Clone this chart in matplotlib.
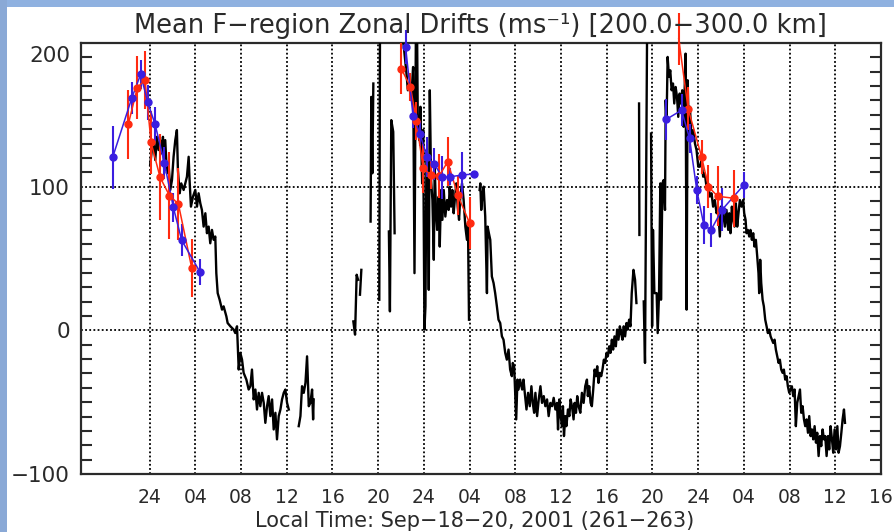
import numpy as np
import matplotlib
matplotlib.use("Agg")
import matplotlib.pyplot as plt
from matplotlib.patches import Rectangle
from matplotlib.ticker import FixedLocator, MultipleLocator

# ---------------- data (hours since 00 LT Sep 18, drift m/s) ----------------
x_ticks = [24, 28, 32, 36, 40, 44, 48, 52, 56, 60, 64, 68, 72, 76, 80, 84, 88]
x_tick_labels = ["24", "04", "08", "12", "16", "20", "24", "04", "08", "12",
                 "16", "20", "24", "04", "08", "12", "16"]
y_tick_values = [-100, 0, 100, 200]

# black: measured drifts, separate segments (gaps between them)
black_seg1 = [(24.05, 115), (24.20, 125.5), (24.35, 130.1), (24.50, 118.5), (24.64, 134.7),
              (24.79, 125.5), (24.93, 132.4), (25.08, 123.1), (25.17, 134.7), (25.28, 111.6),
              (25.37, 132.4), (25.52, 109.3), (25.66, 116.2), (25.81, 97.7), (25.96, 104.6),
              (26.10, 120.8), (26.25, 132.4), (26.39, 139.4), (26.48, 111.6), (26.63, 95.4),
              (26.77, 102.3), (26.98, 97.7), (27.12, 102.3), (27.27, 106.9), (27.42, 120.8),
              (27.50, 104.6), (27.62, 86.1), (27.80, 93.1), (28.00, 97.7), (28.15, 86.1),
              (28.29, 95.4), (28.44, 88.4), (28.58, 83.8), (28.73, 72.2), (28.88, 81.5),
              (29.02, 67.6), (29.17, 72.2), (29.31, 60.6), (29.46, 69.9), (29.61, 63.0),
              (29.75, 65.3), (29.84, 39.8), (29.96, 25.9), (30.13, 21.3), (30.34, 14.4),
              (30.48, 16.7), (30.72, 9.7), (30.83, 5.1), (31.07, 2.8), (31.36, 0.5),
              (31.50, -1.9), (31.65, 2.8), (31.80, -27.3), (31.94, -15.7), (32.09, -20.4),
              (32.23, -29.6), (32.47, -34.3), (32.67, -41.2), (32.82, -38.9), (32.96, -27.3),
              (33.11, -48.1), (33.26, -41.2), (33.40, -55.1), (33.55, -43.5), (33.69, -52.8),
              (33.84, -43.5), (33.99, -50.5), (34.13, -64.4), (34.28, -52.8), (34.42, -45.8),
              (34.57, -59.7), (34.72, -48.1), (34.86, -69.0), (35.01, -57.4), (35.15, -75.9),
              (35.30, -59.7), (35.45, -55.1), (35.59, -48.1), (35.74, -43.5), (35.88, -41.2),
              (36.03, -50.5), (36.18, -55.1)]
black_seg2 = [(37.05, -66.7), (37.20, -59.7), (37.34, -38.9), (37.49, -43.5), (37.64, -36.6),
              (37.78, -18.1), (37.93, -52.8), (38.07, -50.5), (38.22, -41.2), (38.31, -62.0),
              (38.36, -48.1)]
black_seg3 = [(41.83, 6.2), (41.98, -3.0), (42.12, 38.7), (42.24, 35.2)]
black_seg4 = [(42.41, 24.8), (42.53, 42.1)]
black_seg5 = [(43.34, 75.7), (43.40, 162.5), (43.49, 109.3), (43.58, 171.8)]
black_seg6 = [(44.10, 21.3), (44.16, 205)]
black_seg7 = [(44.94, 68.8), (45.03, 13.2), (45.15, 146.3), (45.32, 138.2), (45.44, 67.6)]
black_seg8 = [(46.10, 205), (46.25, 197.2), (46.48, 178.7), (46.60, 167.1), (46.77, 171.8),
              (46.89, 160.2), (47.06, 183.3), (47.18, 39.8), (47.30, 205), (47.41, 205),
              (47.47, 144.0), (47.59, 132.4), (47.70, 155.6), (47.85, 102.3), (47.94, 139.4),
              (48.05, 0.5), (48.14, 16.7), (48.23, 125.5), (48.34, 109.3), (48.43, 28.2),
              (48.52, 167.1), (48.63, 104.6), (48.75, 90.7), (48.87, 49.1), (48.95, 113.9),
              (49.07, 81.5), (49.16, 69.9), (49.30, 93.1), (49.39, 58.3), (49.51, 97.7),
              (49.62, 76.9), (49.74, 97.7), (49.88, 79.2), (50.03, 90.7), (50.17, 83.8),
              (50.26, 100.0), (50.38, 86.1), (50.49, 97.7), (50.61, 81.5), (50.73, 93.1),
              (50.84, 102.3), (50.96, 86.1), (51.08, 76.9), (51.19, 93.1), (51.34, 102.3),
              (51.48, 90.7), (51.63, 72.2), (51.77, 63.0), (51.86, 74.5), (51.95, 7.4)]
black_seg9 = [(52.88, 97.7), (52.94, 102.3), (53.02, 83.8), (53.11, 93.1), (53.23, 100.0),
              (53.37, 79.2), (53.52, 25.9), (53.58, 72.2), (53.69, 67.6), (53.81, 63.0),
              (53.95, 37.5), (54.10, 32.9), (54.24, 25.9), (54.39, 16.7), (54.53, 7.4),
              (54.68, 5.1), (54.83, -4.2), (54.97, -6.5), (55.12, -15.7), (55.26, -20.4),
              (55.41, -13.4), (55.55, -27.3), (55.70, -31.9), (55.78, -22.7), (55.90, -25.0),
              (55.99, -43.5), (56.08, -62.0), (56.19, -34.3), (56.28, -41.2), (56.42, -34.3),
              (56.60, -41.2), (56.72, -34.3), (56.83, -43.5), (56.98, -55.1), (57.12, -43.5),
              (57.27, -52.8), (57.41, -38.9), (57.53, -50.5), (57.65, -57.4), (57.76, -43.5),
              (57.91, -59.7), (58.05, -48.1), (58.20, -38.9), (58.34, -50.5), (58.49, -45.8),
              (58.63, -52.8), (58.78, -48.1), (58.92, -59.7), (59.07, -50.5), (59.22, -52.8),
              (59.36, -47.0), (59.51, -55.1), (59.65, -50.5), (59.74, -69.0), (59.85, -48.1),
              (59.97, -59.7), (60.09, -66.7), (60.17, -52.8), (60.26, -73.6), (60.38, -59.7),
              (60.47, -66.7), (60.61, -55.1), (60.73, -59.7), (60.84, -48.1), (60.96, -52.8),
              (61.10, -62.0), (61.19, -50.5), (61.31, -57.4), (61.42, -45.8), (61.54, -52.8),
              (61.69, -57.4), (61.83, -43.5), (61.98, -50.5), (62.12, -38.9), (62.27, -34.3),
              (62.35, -45.8), (62.47, -38.9), (62.59, -50.5), (62.70, -52.8), (62.82, -41.2),
              (62.94, -27.3), (63.05, -31.9), (63.17, -25.0), (63.28, -36.6), (63.40, -29.6),
              (63.52, -31.9), (63.63, -27.3), (63.75, -20.4), (63.87, -22.7), (63.98, -15.7),
              (64.10, -18.1), (64.22, -11.1), (64.33, -15.7), (64.45, -6.5), (64.56, -13.4),
              (64.68, -4.2), (64.80, -11.1), (64.91, 0.5), (65.03, -6.5), (65.15, 2.8),
              (65.26, -1.9), (65.38, -6.5), (65.49, 2.8), (65.61, -4.2), (65.73, 5.1),
              (65.84, 0.5), (65.96, 7.4), (66.08, 2.8), (66.19, 25.9), (66.34, 42.1),
              (66.48, 35.2), (66.60, 19.0)]
black_seg10 = [(66.83, 157.9), (66.86, 66.4)]
black_seg11 = [(67.24, 20.1), (67.35, -22.7), (67.53, 205)]
black_seg12 = [(67.88, 137.0), (67.97, 2.8), (68.05, 69.9), (68.17, 25.9), (68.37, 25.9),
               (68.46, -1.9), (68.58, 25.9), (68.69, 102.3), (68.75, 21.3), (68.87, 102.3),
               (68.98, 104.6), (69.10, 83.8), (69.16, 160.2), (69.24, 146.3), (69.33, 190.3),
               (69.45, 176.4), (69.56, 181.0), (69.68, 167.1), (69.80, 171.8), (69.91, 157.9),
               (70.03, 169.4), (70.15, 162.5), (70.26, 148.6), (70.38, 164.8), (70.49, 157.9),
               (70.61, 167.1), (70.73, 141.7), (70.78, 155.6), (70.90, 192.6), (70.99, 14.4),
               (71.08, 174.1), (71.19, 137.0), (71.28, 155.6), (71.42, 132.4), (71.57, 139.4),
               (71.72, 130.1), (71.86, 125.5), (72.01, 113.9), (72.15, 113.9), (72.29, 118.5),
               (72.44, 106.9), (72.58, 109.3), (72.73, 100.0), (72.88, 102.3), (73.02, 93.1),
               (73.17, 95.4), (73.31, 86.1), (73.46, 90.7), (73.61, 81.5), (73.75, 83.8),
               (73.90, 65.3), (73.99, 86.1), (74.10, 76.9), (74.19, 81.5), (74.34, 72.2),
               (74.48, 83.8), (74.63, 69.9), (74.72, 81.5), (74.83, 67.6), (74.95, 86.1),
               (75.07, 76.9), (75.18, 72.2), (75.30, 88.4), (75.42, 72.2), (75.53, 81.5),
               (75.65, 90.7), (75.80, 86.1), (75.94, 90.7), (76.03, 81.5), (76.15, 76.9),
               (76.23, 67.6), (76.35, 69.9), (76.47, 65.3), (76.58, 69.9), (76.70, 63.0),
               (76.82, 67.6), (76.93, 58.3), (77.05, 63.0), (77.17, 51.4), (77.28, 39.8),
               (77.34, 25.9), (77.43, 49.1), (77.52, 32.9), (77.64, 21.3), (77.75, 16.7),
               (77.87, 7.4), (77.99, 2.8), (78.10, -1.9), (78.22, 0.5), (78.34, -4.2),
               (78.45, -6.5), (78.57, -8.8), (78.69, -6.5), (78.80, -13.4), (78.92, -18.1),
               (79.04, -22.7), (79.15, -20.4), (79.27, -27.3), (79.39, -29.6), (79.50, -27.3),
               (79.62, -34.3), (79.74, -31.9), (79.85, -38.9), (79.97, -43.5), (80.09, -41.2),
               (80.20, -38.9), (80.32, -45.8), (80.44, -41.2), (80.55, -66.7), (80.67, -50.5),
               (80.79, -45.8), (80.91, -41.2), (81.02, -57.4), (81.14, -52.8), (81.26, -62.0),
               (81.37, -66.7), (81.49, -62.0), (81.61, -71.3), (81.72, -59.7), (81.84, -73.6),
               (81.96, -69.0), (82.07, -75.9), (82.19, -66.7), (82.31, -78.2), (82.42, -71.3),
               (82.54, -87.5), (82.66, -73.6), (82.77, -80.6), (82.89, -69.0), (83.01, -75.9),
               (83.12, -73.6), (83.24, -87.5), (83.36, -73.6), (83.47, -82.9), (83.59, -66.7),
               (83.71, -75.9), (83.82, -85.2), (83.94, -69.0), (84.06, -82.9), (84.18, -66.7),
               (84.29, -85.2), (84.41, -80.6), (84.53, -71.3), (84.64, -62.0), (84.76, -55.1),
               (84.85, -64.4)]
black_segments = [black_seg1, black_seg2, black_seg3, black_seg4, black_seg5, black_seg6,
                  black_seg7, black_seg8, black_seg9, black_seg10, black_seg11, black_seg12]

# red series (three nights): time, value, error
red_n1_t = [22.14, 22.93, 23.60, 24.13, 24.92, 25.74, 26.52, 27.69]
red_n1_v = [143.5, 169.0, 174.3, 130.8, 106.5, 93.8, 88.0, 43.3]
red_n1_e = [24, 22, 20, 22, 30, 30, 25, 20]
red_n2_t = [46.02, 46.83, 47.35, 47.94, 48.63, 49.33, 50.09, 50.96, 52.01]
red_n2_v = [182.2, 169.4, 145.6, 112.7, 108.1, 107.4, 117.4, 94.2, 74.5]
red_n2_e = [18, 10, 13, 17, 10, 15, 17, 14, 18]
red_n3_t = [70.30, 71.12, 72.30, 72.90, 73.70, 75.15]
red_n3_v = [203.0, 154.4, 120.8, 100.0, 93.3, 91.9]
red_n3_e = [18, 15, 12, 15, 21, 20]

# blue series (three nights)
blue_n1_t = [20.77, 22.44, 23.22, 23.84, 24.48, 25.30, 26.08, 26.81, 28.42]
blue_n1_v = [120.4, 161.6, 178.2, 158.6, 143.5, 116.4, 85.6, 62.7, 40.5]
blue_n1_e = [22, 11, 10, 12, 12, 11, 10, 11, 9]
blue_n2_t = [46.40, 47.06, 47.65, 48.28, 48.92, 49.62, 50.32, 51.34, 52.35]
blue_n2_v = [197.2, 149.1, 137.0, 120.4, 115.7, 106.5, 106.9, 108.1, 108.8]
blue_n2_e = [12, 8, 9, 14, 11, 15, 6, 16, 0]
blue_n3_t = [69.20, 70.55, 71.25, 71.88, 72.50, 73.13, 74.08, 76.00]
blue_n3_v = [146.8, 153.2, 133.6, 97.7, 73.2, 69.9, 83.8, 101.2]
blue_n3_e = [14, 11, 10, 10, 13, 12, 15, 9]

title_text = "Mean F\u2212region Zonal Drifts (ms\u207b\u00b9) [200.0\u2212300.0 km]"
xlabel_text = "Local Time: Sep\u221218\u221220, 2001 (261\u2212263)"

RED = "#ff2a10"
BLUE = "#3a1ee0"
INK = "#2a2a2a"

# ---------------- figure ----------------
W, H = 894, 532
fig = plt.figure(figsize=(W / 100, H / 100), dpi=100)
fig.patch.set_facecolor("white")
fig.patches.append(Rectangle((0, 1 - 7 / H), 1, 7 / H, transform=fig.transFigure,
                             facecolor="#8fb1e0", edgecolor="none", zorder=0))
fig.patches.append(Rectangle((0, 0), 7 / W, 1, transform=fig.transFigure,
                             facecolor="#8aa9d6", edgecolor="none", zorder=0))

ax = fig.add_axes([81 / W, 58 / H, 800 / W, 431 / H])
ax.set_xlim(18, 88)
ax.set_ylim(-100, 200)

# gridlines
for xt in x_ticks[:-1]:
    ax.axvline(xt, color="black", lw=1.3, ls=(0, (1, 1.3)), zorder=1)
for yt in [0, 100]:
    ax.axhline(yt, color="black", lw=1.3, ls=(0, (1, 1.3)), zorder=1)

# black series
bt, bv = [], []
for seg in black_segments:
    for t, v in seg:
        bt.append(t)
        bv.append(v)
    bt.append(np.nan)
    bv.append(np.nan)
ax.plot(bt, bv, color="black", lw=1.7, zorder=3)


def draw_group(t, v, e, col):
    cont = ax.errorbar(t, v, yerr=e, fmt="-", color=col, lw=1.1, elinewidth=1.5,
                       capsize=0, zorder=4)
    for art in cont.get_children():
        art.set_clip_on(False)
    ax.plot(t, v, "o", color=col, ms=5, mec=col, zorder=5)


for t, v, e in [(red_n1_t, red_n1_v, red_n1_e), (red_n2_t, red_n2_v, red_n2_e),
                (red_n3_t, red_n3_v, red_n3_e)]:
    draw_group(t, v, e, RED)
for t, v, e in [(blue_n1_t, blue_n1_v, blue_n1_e), (blue_n2_t, blue_n2_v, blue_n2_e),
                (blue_n3_t, blue_n3_v, blue_n3_e)]:
    draw_group(t, v, e, BLUE)

# axes styling
for sp in ax.spines.values():
    sp.set_linewidth(1.6)
    sp.set_color(INK)

ax.xaxis.set_major_locator(FixedLocator(x_ticks))
ax.set_xticklabels(x_tick_labels, fontsize=13.5)
ax.tick_params(axis="x", length=0, pad=10, colors=INK)

ax.yaxis.set_major_locator(FixedLocator(y_tick_values))
ax.yaxis.set_minor_locator(MultipleLocator(10))
ax.set_yticklabels([("" if y == 200 else ("\u2212100" if y == -100 else str(y)))
                    for y in y_tick_values], fontsize=15.5)
ax.tick_params(axis="y", which="major", length=0, pad=8, colors=INK)
ax.tick_params(axis="y", which="minor", direction="in", length=8, width=1.5,
               left=True, right=True, color=INK)
ax.annotate("200", xy=(0, 200), xycoords=("axes fraction", "data"),
            xytext=(-8, -2.5), textcoords="offset points", ha="right", va="top",
            fontsize=15.5, color=INK, annotation_clip=False)

fig.text(480 / W, 1 - 33 / H, title_text, ha="center", va="baseline",
         fontsize=18.5, color=INK)
fig.text(475 / W, 1 - 527 / H, xlabel_text, ha="center", va="baseline",
         fontsize=15, color=INK)

fig.savefig("out.png", dpi=100, facecolor=fig.get_facecolor())
